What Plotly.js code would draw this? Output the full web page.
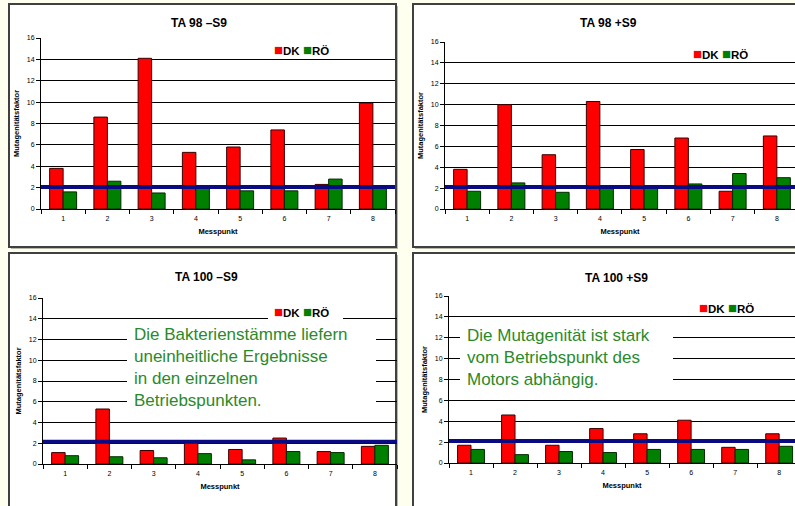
<!DOCTYPE html>
<html>
<head>
<meta charset="utf-8">
<script src="https://cdn.plot.ly/plotly-3.0.1.min.js"></script>
<style>html,body{margin:0;padding:0;background:#fffff0;}#chart{width:795px;height:506px;}</style>
</head>
<body>
<div id="chart"></div>
<script>
// ---- data ----
const messpunkte = ['1','2','3','4','5','6','7','8'];
const seriesNames = ['DK', 'RÖ'];
const panelTitles = ['TA 98 –S9', 'TA 98 +S9', 'TA 100 –S9', 'TA 100 +S9'];
const dk_TA98_minusS9  = [3.8, 8.6, 14.1, 5.3, 5.8, 7.4, 2.3, 9.9];
const ro_TA98_minusS9  = [1.6, 2.6, 1.5, 2.0, 1.7, 1.7, 2.8, 2.0];
const dk_TA98_plusS9   = [3.8, 10.0, 5.2, 10.3, 5.7, 6.8, 1.7, 7.0];
const ro_TA98_plusS9   = [1.7, 2.5, 1.6, 2.0, 2.0, 2.4, 3.4, 3.0];
const dk_TA100_minusS9 = [1.1, 5.3, 1.3, 2.1, 1.4, 2.5, 1.2, 1.7];
const ro_TA100_minusS9 = [0.8, 0.7, 0.6, 1.0, 0.4, 1.2, 1.1, 1.8];
const dk_TA100_plusS9  = [1.7, 4.6, 1.7, 3.3, 2.8, 4.1, 1.5, 2.8];
const ro_TA100_plusS9  = [1.3, 0.8, 1.1, 1.0, 1.3, 1.3, 1.3, 1.6];
const thresholds = [2.05, 2.1, 2.15, 2.1];
const yTitle = 'Mutagenitätsfaktor';
const xTitle = 'Messpunkt';
const note3 = ['Die Bakterienstämme liefern', 'uneinheitliche Ergebnisse', 'in den einzelnen', 'Betriebspunkten.'];
const note4 = ['Die Mutagenität ist stark', 'vom Betriebspunkt des', 'Motors abhängig.'];

const dkSeries = [dk_TA98_minusS9, dk_TA98_plusS9, dk_TA100_minusS9, dk_TA100_plusS9];
const roSeries = [ro_TA98_minusS9, ro_TA98_plusS9, ro_TA100_minusS9, ro_TA100_plusS9];

// ---- layout geometry (pixels) ----
const W = 795, H = 506;
const px = v => v / W, py = v => 1 - v / H;
const RED = '#ff0000', GREEN = '#008000', NAVY = '#0a0a82', TXTGREEN = '#2a8a2a';
const FONT = 'Liberation Sans, Arial, sans-serif';

// plot areas: [left, right, top(16), bottom(0), xRangeMax]
const areas = [
  [41, 395, 38, 209, 7.5],
  [445, 795, 42, 209, 7.41],
  [43, 397, 298, 464, 7.5],
  [449, 795, 296, 463, 7.36]
];
// panel frames [x0, y0, x1, y1]
const frames = [
  [9, 4, 396, 247],
  [413, 4, 800, 247],
  [9, 253, 396, 510],
  [413, 253, 800, 510]
];
const titlePos = [[199, 23], [608, 23], [206, 277], [616, 278]];
const legendPos = [[272, 49], [691, 53], [272, 311], [697, 307]];
// white boxes behind legends / notes [x0, y0, x1, y1]
const whiteBoxes = [[268, 303, 343, 320], [693, 300, 758, 315], [127, 325, 376, 412], [460, 325, 673, 392]];

const traces = [];
const layout = {
  width: W, height: H,
  margin: {l: 0, r: 0, t: 0, b: 0},
  paper_bgcolor: '#fffff0',
  plot_bgcolor: 'rgba(0,0,0,0)',
  barmode: 'group',
  bargap: 0.39,
  bargroupgap: 0,
  showlegend: false,
  font: {family: FONT, color: '#000'},
  shapes: [],
  annotations: []
};

frames.forEach(f => {
  layout.shapes.push({type: 'rect', xref: 'paper', yref: 'paper', layer: 'below',
    x0: px(f[0] + 2), x1: px(f[2] + 2), y0: py(f[1] + 2), y1: py(f[3] + 2),
    fillcolor: '#b8b8a8', line: {width: 0}});
  layout.shapes.push({type: 'rect', xref: 'paper', yref: 'paper', layer: 'below',
    x0: px(f[0]), x1: px(f[2]), y0: py(f[1]), y1: py(f[3]),
    fillcolor: '#ffffff', line: {color: '#404040', width: 2}});
});

for (let i = 0; i < 4; i++) {
  const n = i === 0 ? '' : String(i + 1);
  const xa = 'x' + n, ya = 'y' + n;
  const a = areas[i];
  traces.push({type: 'bar', name: seriesNames[0], x: messpunkte, y: dkSeries[i], xaxis: xa, yaxis: ya,
    marker: {color: RED, line: {color: '#3a0000', width: 1}}});
  traces.push({type: 'bar', name: seriesNames[1], x: messpunkte, y: roSeries[i], xaxis: xa, yaxis: ya,
    marker: {color: GREEN, line: {color: '#002a00', width: 1}}});

  layout['xaxis' + n] = {
    type: 'category', domain: [px(a[0]), px(a[1])], anchor: ya,
    range: [-0.5, a[4]], fixedrange: true,
    showline: true, linecolor: '#000', linewidth: 1,
    ticks: 'outside', tickson: 'boundaries', ticklen: 4, tickcolor: '#000',
    ticklabelstandoff: 3,
    showgrid: false, zeroline: false,
    tickfont: {size: 7, family: FONT, color: '#000'},
    title: {text: '<b>' + xTitle + '</b>', font: {size: 7.5, family: FONT}, standoff: 7}
  };
  layout['yaxis' + n] = {
    domain: [py(a[3]), py(a[2])], anchor: xa,
    range: [0, 16], tickvals: [0, 2, 4, 6, 8, 10, 12, 14, 16], fixedrange: true,
    showline: true, linecolor: '#000', linewidth: 1,
    ticks: 'outside', ticklen: 4, tickcolor: '#000',
    showgrid: true, gridcolor: '#000', gridwidth: 1, zeroline: false,
    tickfont: {size: 7, family: FONT, color: '#000'},
    title: {text: '<b>' + yTitle + '</b>', font: {size: 7.5, family: FONT}, standoff: 6}
  };

  layout.shapes.push({type: 'line', xref: xa + ' domain', yref: ya, x0: 0, x1: 1,
    y0: thresholds[i], y1: thresholds[i], line: {color: NAVY, width: 4}});

  layout.annotations.push({xref: 'paper', yref: 'paper', x: px(titlePos[i][0]), y: py(titlePos[i][1]),
    xanchor: 'center', yanchor: 'middle', showarrow: false,
    text: '<b>' + panelTitles[i] + '</b>', font: {size: 12, family: FONT, color: '#000'}});
}

whiteBoxes.forEach(b => {
  layout.shapes.push({type: 'rect', xref: 'paper', yref: 'paper', layer: 'above',
    x0: px(b[0]), x1: px(b[2]), y0: py(b[1]), y1: py(b[3]),
    fillcolor: '#ffffff', line: {width: 0}});
});

legendPos.forEach(p => {
  layout.annotations.push({xref: 'paper', yref: 'paper', x: px(p[0]), y: py(p[1]),
    xanchor: 'left', yanchor: 'middle', showarrow: false,
    text: '<span style="color:' + RED + ';font-size:15px">■</span><b>' + seriesNames[0] + '</b> <span style="color:' + GREEN + ';font-size:15px">■</span><b>' + seriesNames[1] + '</b>',
    font: {size: 11.5, family: FONT, color: '#000'}});
});

layout.annotations.push({xref: 'paper', yref: 'paper', x: px(133), y: py(324), xanchor: 'left', yanchor: 'top',
  showarrow: false, align: 'left', borderpad: 0,
  text: note3.join('<br>'), font: {size: 17, family: FONT, color: TXTGREEN}});
layout.annotations.push({xref: 'paper', yref: 'paper', x: px(466), y: py(325), xanchor: 'left', yanchor: 'top',
  showarrow: false, align: 'left', borderpad: 0,
  text: note4.join('<br>'), font: {size: 17, family: FONT, color: TXTGREEN}});

Plotly.newPlot('chart', traces, layout, {staticPlot: true, displayModeBar: false});
</script>
</body>
</html>
